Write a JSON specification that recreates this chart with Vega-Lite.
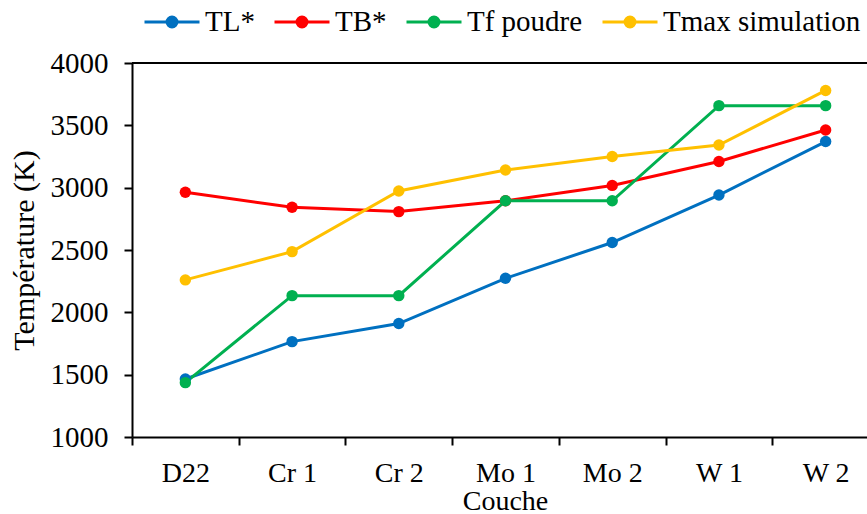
{
  "$schema": "https://vega.github.io/schema/vega-lite/v6.json",
  "autosize": {"type": "none"},
  "width": 735,
  "height": 374,
  "padding": {"left": 132, "top": 63, "right": 0, "bottom": 77},
  "background": "white",
  "config": {
    "view": {"stroke": null},
    "font": "Liberation Serif",
    "text": {"font": "Liberation Serif"},
    "axis": {
      "labelFont": "Liberation Serif",
      "titleFont": "Liberation Serif",
      "labelFontSize": 28,
      "titleFontSize": 28,
      "labelColor": "black",
      "titleColor": "black",
      "titleFontWeight": "normal",
      "domainColor": "black",
      "domainWidth": 2,
      "tickColor": "black",
      "tickWidth": 2,
      "tickSize": 8,
      "grid": false
    },
    "legend": {"labelFont": "Liberation Serif", "labelFontSize": 29, "labelColor": "black", "labelLimit": 400}
  },
  "layer": [
    {
      "data": {"name": "main", "values": [
        {"couche": "D22", "serie": "TL*", "temp": 1465},
        {"couche": "Cr 1", "serie": "TL*", "temp": 1765},
        {"couche": "Cr 2", "serie": "TL*", "temp": 1910},
        {"couche": "Mo 1", "serie": "TL*", "temp": 2273},
        {"couche": "Mo 2", "serie": "TL*", "temp": 2560},
        {"couche": "W 1", "serie": "TL*", "temp": 2941},
        {"couche": "W 2", "serie": "TL*", "temp": 3370},
        {"couche": "D22", "serie": "TB*", "temp": 2963},
        {"couche": "Cr 1", "serie": "TB*", "temp": 2843},
        {"couche": "Cr 2", "serie": "TB*", "temp": 2808},
        {"couche": "Mo 1", "serie": "TB*", "temp": 2895},
        {"couche": "Mo 2", "serie": "TB*", "temp": 3018},
        {"couche": "W 1", "serie": "TB*", "temp": 3210},
        {"couche": "W 2", "serie": "TB*", "temp": 3463},
        {"couche": "D22", "serie": "Tf poudre", "temp": 1436},
        {"couche": "Cr 1", "serie": "Tf poudre", "temp": 2134},
        {"couche": "Cr 2", "serie": "Tf poudre", "temp": 2134},
        {"couche": "Mo 1", "serie": "Tf poudre", "temp": 2895},
        {"couche": "Mo 2", "serie": "Tf poudre", "temp": 2895},
        {"couche": "W 1", "serie": "Tf poudre", "temp": 3658},
        {"couche": "W 2", "serie": "Tf poudre", "temp": 3658},
        {"couche": "D22", "serie": "Tmax simulation", "temp": 2260},
        {"couche": "Cr 1", "serie": "Tmax simulation", "temp": 2487},
        {"couche": "Cr 2", "serie": "Tmax simulation", "temp": 2973},
        {"couche": "Mo 1", "serie": "Tmax simulation", "temp": 3142},
        {"couche": "Mo 2", "serie": "Tmax simulation", "temp": 3250},
        {"couche": "W 1", "serie": "Tmax simulation", "temp": 3342},
        {"couche": "W 2", "serie": "Tmax simulation", "temp": 3780}
      ]},
      "encoding": {
        "x": {
          "field": "couche", "type": "nominal",
          "sort": ["D22", "Cr 1", "Cr 2", "Mo 1", "Mo 2", "W 1", "W 2"],
          "scale": {"type": "band", "range": [0, 747], "paddingInner": 0, "paddingOuter": 0},
          "axis": {"title": "Couche", "labelAngle": 0, "tickBand": "extent", "labelPadding": 14, "titlePadding": 0, "titleX": 373}
        },
        "y": {
          "field": "temp", "type": "quantitative",
          "scale": {"domain": [1000, 4000], "nice": false, "zero": false},
          "axis": {"title": "Température (K)", "titleFontSize": 30, "labelFontSize": 29, "format": "d", "values": [1000, 1500, 2000, 2500, 3000, 3500, 4000], "labelPadding": 16, "titlePadding": 11}
        },
        "color": {
          "field": "serie", "type": "nominal",
          "scale": {"domain": ["TL*", "TB*", "Tf poudre", "Tmax simulation"], "range": ["#0070C0", "#FF0000", "#00B050", "#FFC000"]},
          "legend": {
            "title": null,
            "orient": "none",
            "direction": "horizontal",
            "legendX": 11,
            "legendY": -70,
            "labelFont": "Liberation Serif",
            "labelFontSize": 29,
            "labelLimit": 400,
            "symbolType": "M-1,0H1M0.18,0A0.18,0.18,0,1,1,-0.18,0A0.18,0.18,0,1,1,0.18,0Z",
            "symbolSize": 3025,
            "symbolStrokeWidth": 3,
            "labelOffset": 4,
            "columnPadding": 13,
            "encode": {"symbols": {"update": {
              "stroke": {"scale": "color", "field": "value"},
              "fill": {"scale": "color", "field": "value"},
              "strokeWidth": {"value": 3},
              "opacity": {"value": 1}
            }}}
          }
        }
      },
      "layer": [
        {"mark": {"type": "line", "strokeWidth": 3}},
        {"mark": {"type": "point", "filled": true, "size": 130, "opacity": 1}}
      ]
    },
    {
      "data": {"values": [{"temp": 4000}]},
      "mark": {"type": "rule", "color": "black", "strokeWidth": 2},
      "encoding": {"y": {"field": "temp", "type": "quantitative"}}
    }
  ]
}
